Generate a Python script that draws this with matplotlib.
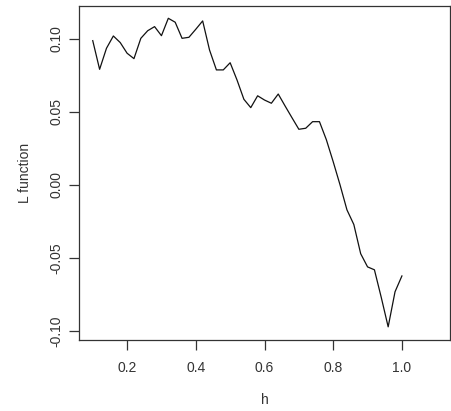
import matplotlib
matplotlib.use("Agg")
import matplotlib.pyplot as plt

h = [0.10, 0.12, 0.14, 0.16, 0.18, 0.20, 0.22, 0.24, 0.26, 0.28,
     0.30, 0.32, 0.34, 0.36, 0.38, 0.40, 0.42, 0.44, 0.46, 0.48,
     0.50, 0.52, 0.54, 0.56, 0.58, 0.60, 0.62, 0.64, 0.66, 0.68,
     0.70, 0.72, 0.74, 0.76, 0.78, 0.80, 0.82, 0.84, 0.86, 0.88,
     0.90, 0.92, 0.94, 0.96, 0.98, 1.00]
L = [0.0987, 0.0791, 0.0935, 0.1019, 0.0974, 0.0901, 0.0864, 0.1003, 0.1055, 0.1083,
     0.1021, 0.1140, 0.1113, 0.1003, 0.1010, 0.1065, 0.1122, 0.0923, 0.0787, 0.0787,
     0.0836, 0.0718, 0.0586, 0.0529, 0.0610, 0.0581, 0.0559, 0.0622, 0.0540, 0.0460,
     0.0381, 0.0388, 0.0433, 0.0433, 0.0310, 0.0159, 0.0000, -0.0170, -0.0270, -0.0470,
     -0.0560, -0.0580, -0.0770, -0.0970, -0.0730, -0.0622]

xticks = [0.2, 0.4, 0.6, 0.8, 1.0]
yticks = [-0.10, -0.05, 0.00, 0.05, 0.10]

plt.rcParams['font.family'] = ['Liberation Sans', 'DejaVu Sans']
plt.rcParams['font.size'] = 10

fig = plt.figure(figsize=(4.52, 4.11), dpi=100)
ax = fig.add_axes([79/452, 1-340/411, (450-79)/452, (340-6)/411])
ax.plot(h, L, "-", color="#111111", lw=0.9)
ax.set_xlim(0.06, 1.14)
ax.set_ylim(-0.106, 0.1224)

ax.set_xticks(xticks)
ax.set_xticklabels(["%.1f" % v for v in xticks])
ax.set_yticks(yticks)
ax.set_yticklabels(["%.2f" % v for v in yticks])
ax.tick_params(axis='x', length=7.5, width=0.9, pad=7.5, colors="#333333")
ax.tick_params(axis='y', length=7.5, width=0.9, pad=4, colors="#333333", labelrotation=90)
for lab in ax.get_yticklabels():
    lab.set_va('center')
for sp in ax.spines.values():
    sp.set_color("#333333")
    sp.set_linewidth(0.9)

ax.set_xlabel("h", color="#333333", labelpad=13)
ax.set_ylabel("L function", color="#333333", labelpad=12)

fig.savefig("out.png", dpi=100)
